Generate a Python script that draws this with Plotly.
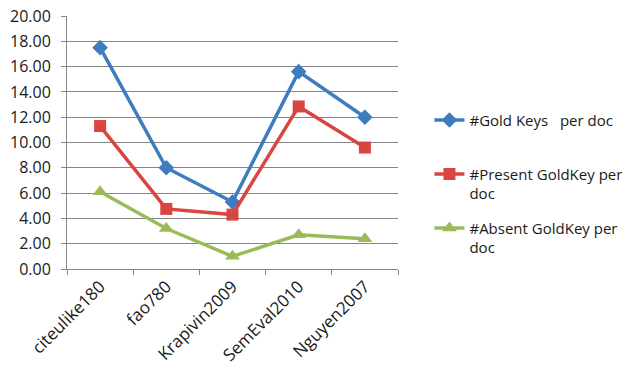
import plotly.graph_objects as go

categories = ["citeulike180", "fao780", "Krapivin2009", "SemEval2010", "Nguyen2007"]
gold_keys = [17.5, 8.0, 5.3, 15.6, 12.0]
present_keys = [11.3, 4.75, 4.3, 12.85, 9.6]
absent_keys = [6.1, 3.2, 1.0, 2.7, 2.4]
y_ticks = [0, 2, 4, 6, 8, 10, 12, 14, 16, 18, 20]

FONT = "Open Sans"

fig = go.Figure()
fig.add_trace(go.Scatter(
    x=categories, y=gold_keys, mode="lines+markers",
    name="#Gold Keys\u00a0\u00a0\u00a0per doc<br>\u00a0", legendgroup="a",
    line=dict(color="#3F7CBF", width=3.5),
    marker=dict(symbol="diamond", size=12, color="#3F7CBF"),
))
fig.add_trace(go.Scatter(
    x=categories, y=present_keys, mode="lines+markers",
    name="#Present GoldKey per<br>doc", legendgroup="b",
    line=dict(color="#D94541", width=3.5),
    marker=dict(symbol="square", size=12, color="#D94541"),
))
fig.add_trace(go.Scatter(
    x=categories, y=absent_keys, mode="lines+markers",
    name="#Absent GoldKey per<br>doc", legendgroup="c",
    line=dict(color="#9BBB59", width=3.5),
    marker=dict(symbol="triangle-up", size=13, color="#9BBB59"),
))

fig.update_layout(
    width=622, height=365,
    margin=dict(l=67, r=224, t=16, b=96, autoexpand=False),
    paper_bgcolor="white", plot_bgcolor="white",
    font=dict(family=FONT, size=15, color="#1a1a1a"),
    showlegend=True,
    legend=dict(
        x=1.095, y=0.337, xanchor="left", yanchor="middle",
        traceorder="grouped", tracegroupgap=12, valign="top",
        font=dict(family=FONT, size=15, color="#1a1a1a"),
        itemwidth=30,
    ),
)
fig.update_xaxes(
    type="category", tickangle=-45, showgrid=False,
    showline=True, linecolor="#868686", linewidth=1,
    ticks="outside", tickson="boundaries", ticklen=5, tickcolor="#868686",
    tickfont=dict(family=FONT, size=17), ticklabeloverflow="allow",
    range=[-0.5, 4.5], automargin=False,
)
fig.update_yaxes(
    range=[0, 20], tickvals=y_ticks, tickformat=".2f",
    showgrid=True, gridcolor="#868686", gridwidth=1,
    showline=True, linecolor="#868686", linewidth=1,
    ticks="outside", ticklen=5, tickcolor="#868686",
    tickfont=dict(family=FONT, size=16), ticklabelstandoff=7,
    ticklabeloverflow="allow",
    zeroline=False, automargin=False,
)

fig.write_html(
    "out.html",
    config={"displayModeBar": False},
    post_script="document.body.style.margin='0';",
)
